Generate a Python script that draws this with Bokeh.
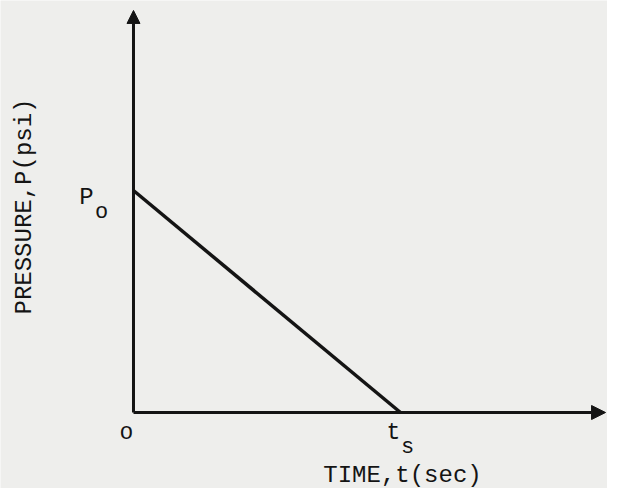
import math
from bokeh.plotting import figure
from bokeh.models import Arrow, NormalHead, Range1d, ColumnDataSource
from bokeh.core.properties import value
from bokeh.embed import file_html
from bokeh.resources import INLINE

# ---- data (normalised: t_s = 1, P_o = 1) ----
time_vals = [0.0, 1.0]          # t = 0 ... t = t_s
pressure_vals = [1.0, 0.0]      # P = P_o ... 0
x_tick_pos = [0.0, 1.0]
x_tick_main = ["o", "t"]
x_tick_sub = ["", "s"]
y_tick_pos = [1.0]
y_tick_main = ["P"]
y_tick_sub = ["o"]
x_title = "TIME,t(sec)"
y_title = "PRESSURE,P(psi)"
x_axis_end = 1.768
y_axis_end = 1.811

BG = "#eeeeec"
INK = "#141414"
FONT = value("Liberation Mono")

p = figure(width=607, height=488, output_backend="svg", toolbar_location=None,
           x_range=Range1d(-0.4981, 1.7753), y_range=Range1d(-0.3423, 1.8559),
           min_border=0)
p.axis.visible = False
p.grid.visible = False
p.outline_line_color = None
p.background_fill_color = BG
p.border_fill_color = BG

# axes with arrows
p.add_layout(Arrow(x_start=0, y_start=0, x_end=x_axis_end, y_end=0,
                   line_width=3, line_color=INK,
                   end=NormalHead(size=14, fill_color=INK, line_color=INK)))
p.add_layout(Arrow(x_start=0, y_start=0, x_end=0, y_end=y_axis_end,
                   line_width=3, line_color=INK,
                   end=NormalHead(size=13, fill_color=INK, line_color=INK)))

# pressure decay line
p.line(time_vals, pressure_vals, line_width=3.5, line_color=INK)

# x tick labels
xs = ColumnDataSource(dict(x=x_tick_pos, y=[0.0] * len(x_tick_pos),
                           main=x_tick_main, sub=x_tick_sub))
p.text(x="x", y="y", text="main", source=xs, text_font=FONT, text_font_size="23px",
       text_color=INK, text_align="center", text_baseline="alphabetic",
       x_offset=-7, y_offset=20)
p.text(x="x", y="y", text="sub", source=xs, text_font=FONT, text_font_size="22px",
       text_color=INK, text_align="center", text_baseline="alphabetic",
       x_offset=7, y_offset=35)

# y tick label
ys = ColumnDataSource(dict(x=[0.0] * len(y_tick_pos), y=y_tick_pos,
                           main=y_tick_main, sub=y_tick_sub))
p.text(x="x", y="y", text="main", source=ys, text_font=FONT, text_font_size="24px",
       text_color=INK, text_align="center", text_baseline="alphabetic",
       x_offset=-47, y_offset=7)
p.text(x="x", y="y", text="sub", source=ys, text_font=FONT, text_font_size="22px",
       text_color=INK, text_align="center", text_baseline="alphabetic",
       x_offset=-32, y_offset=22)

# axis titles
p.text(x=[1.0075], y=[0.0], text=[x_title], text_font=FONT, text_font_size="24px",
       text_color=INK, text_align="center", text_baseline="alphabetic",
       y_offset=63)
p.text(x=[0.0], y=[0.928], text=[y_title], text_font=FONT, text_font_size="24px",
       text_color=INK, text_align="center", text_baseline="middle",
       angle=math.pi / 2, x_offset=-109)

open("out.html", "w").write(file_html(p, INLINE))
